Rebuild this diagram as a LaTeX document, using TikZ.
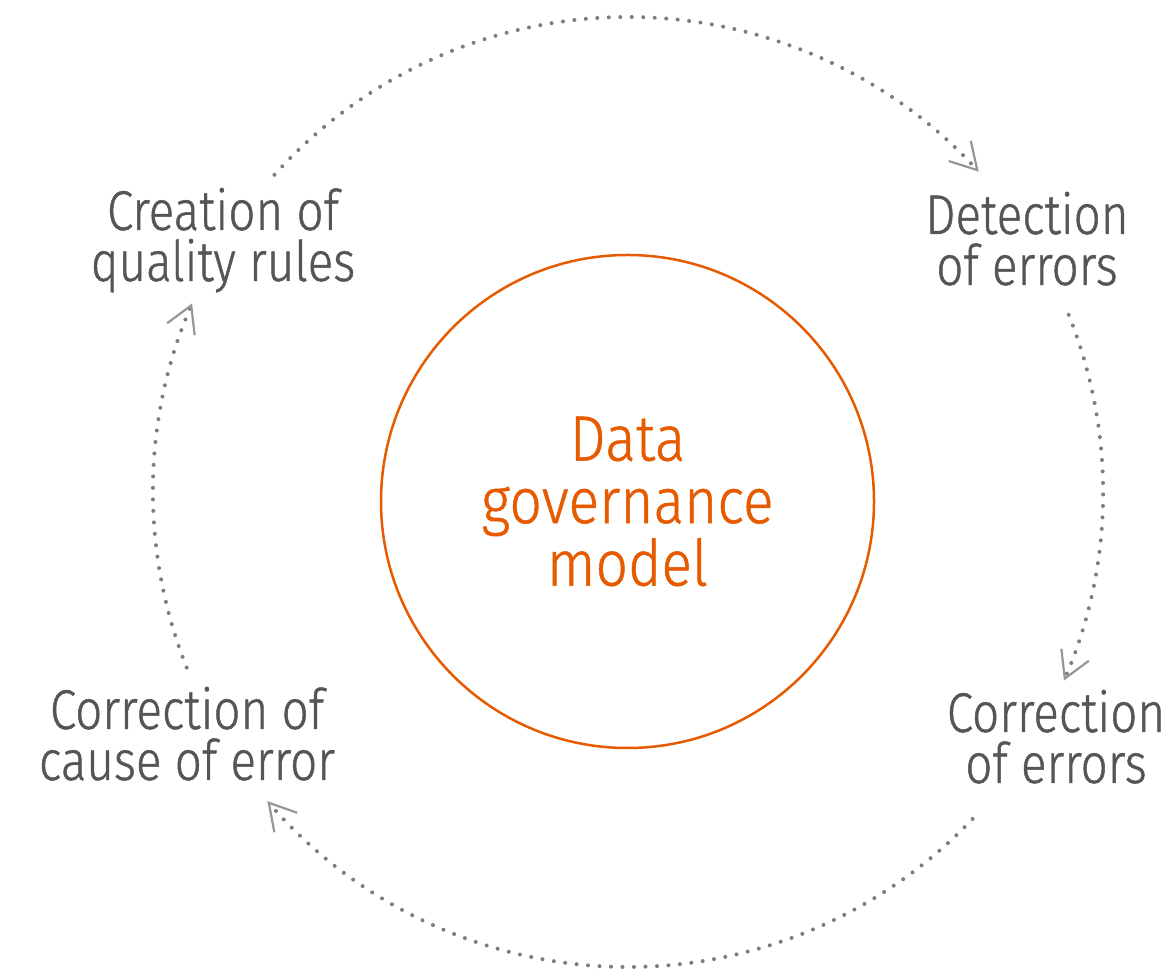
\documentclass[tikz,border=0pt]{standalone}
\usepackage{fontspec}
\setmainfont{Fira Sans Light}[FakeStretch=0.85, FakeBold=0.8]
\newfontfamily\hubfont{Fira Sans Light}[FakeStretch=0.89, FakeBold=0.8]
\usepackage{tikz}
\usetikzlibrary{arrows.meta}
\definecolor{textgrey}{RGB}{85,85,85}
\definecolor{dotgrey}{RGB}{125,125,125}
\definecolor{tipgrey}{RGB}{150,150,150}
\definecolor{repsolorange}{RGB}{230,90,0}

\begin{document}
\begin{tikzpicture}[x=1pt,y=1pt,
  step label/.style={align=center, text=textgrey, inner sep=0pt, anchor=base,
    font=\fontsize{56}{51}\selectfont},
  hub/.style={draw=repsolorange, line width=2.5pt, circle, minimum size=493pt,
    align=center, text=repsolorange, inner sep=0pt, font=\hubfont\fontsize{64}{62.5}\selectfont},
  cycle arc/.style={dotgrey, line width=4pt, line cap=round, dash pattern=on 0pt off 11.5pt,
    -{Straight Barb[length=26pt, width=30pt, line width=2.2pt, color=tipgrey]}}]
  \useasboundingbox (0,0) rectangle (1174,969);
  \coordinate (ring) at (628,477);

  \node[hub] (model) at (627.5,467.5) {Data\\governance\\model};

  \node[step label] (rules) at (223,688) {Creation of\\quality rules};
  \node[step label] (detect) at (1027,684) {Detection\\of errors};
  \node[step label] (fix) at (1056,186) {Correction\\of errors};
  \node[step label] (cause) at (187,189) {Correction of\\cause of error};

  % cycle, clockwise
  \draw[cycle arc] (ring) ++(138.1:475) arc[start angle=138.1, end angle=42.4, radius=475];
  \draw[cycle arc] (ring) ++(21.9:475) arc[start angle=21.9, end angle=-23.4, radius=475];
  \draw[cycle arc] (ring) ++(-43.5:475) arc[start angle=-43.5, end angle=-139.4, radius=475];
  \draw[cycle arc] (ring) ++(201.7:475) arc[start angle=201.7, end angle=156.6, radius=475];
\end{tikzpicture}
\end{document}
